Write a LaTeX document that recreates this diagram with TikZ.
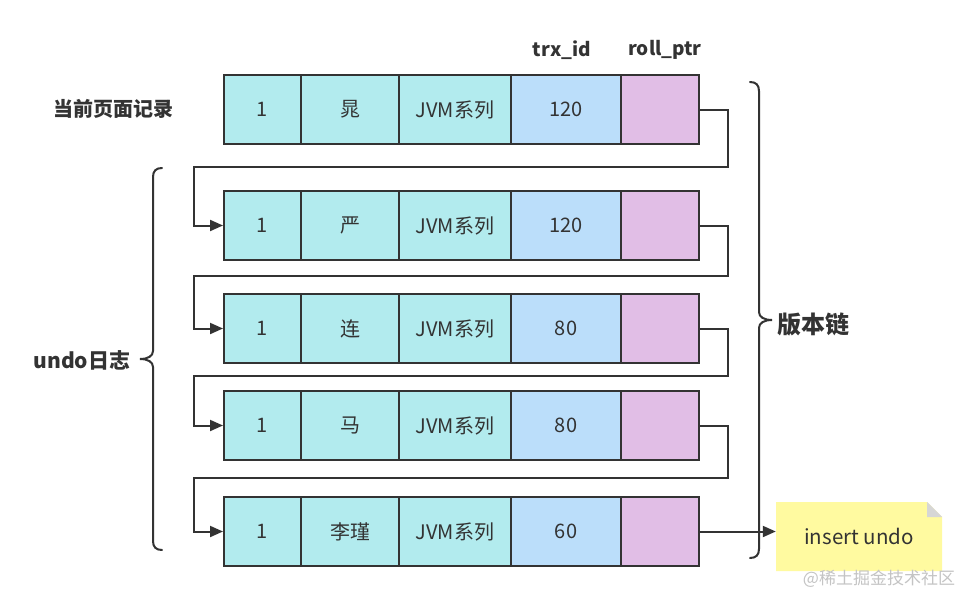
\documentclass[tikz,border=0pt]{standalone}
\usepackage{fontspec}
\setmainfont{Noto Sans CJK SC}
\usetikzlibrary{arrows.meta,calc}
\definecolor{cyanf}{HTML}{B2EBEE}
\definecolor{bluef}{HTML}{BBDEFA}
\definecolor{pinkf}{HTML}{E1BEE6}
\definecolor{ink}{HTML}{333333}
\definecolor{notef}{HTML}{FFFAA0}
\definecolor{foldc}{HTML}{D6D6D6}
\definecolor{wm}{HTML}{C4C4C4}
\begin{document}
\begin{tikzpicture}[x=1pt,y=-1pt,
  cell/.style={draw=ink,line width=2pt,minimum height=69pt,inner sep=0pt,anchor=north west,
    font=\fontsize{20}{22}\selectfont,text=ink},
  conn/.style={draw=ink,line width=2pt},
  tip/.style={-{Triangle[length=13pt,width=11pt]}},
  lab/.style={font=\bfseries,text=ink,inner sep=0pt},
  brace/.style={draw=ink,line width=2pt,line cap=round}]
\fill[white] (0,0) rectangle (967,597);
\useasboundingbox (0,0) rectangle (967,597);
\foreach \r/\y/\nm/\trx in {1/74/晁/120, 2/190/严/120, 3/293/连/80, 4/390/马/80, 5/496/李瑾/60}{
  \node[cell,fill=cyanf,minimum width=77pt] (c1-\r) at (223,\y) {1};
  \node[cell,fill=cyanf,minimum width=98pt] (c2-\r) at (300,\y) {\nm};
  \node[cell,fill=cyanf,minimum width=112pt] (c3-\r) at (398,\y) {JVM系列};
  \node[cell,fill=bluef,minimum width=110pt] (c4-\r) at (510,\y) {\trx};
  \node[cell,fill=pinkf,minimum width=78pt] (c5-\r) at (620,\y) {};
}
\foreach \a/\b/\g in {1/2/167, 2/3/276, 3/4/376, 4/5/478}{
  \draw[conn,tip] (c5-\a.east) -| (728,\g) -- (194,\g) |- (c1-\b.west);
}
% note
\node[inner sep=0pt,minimum width=166pt,minimum height=69pt,text=ink,
  font=\fontsize{20.5}{22}\selectfont,
  path picture={
    \fill[notef] (path picture bounding box.south west) -- (path picture bounding box.north west)
      -- ([xshift=-15pt]path picture bounding box.north east)
      -- ([yshift=-15pt]path picture bounding box.north east)
      -- (path picture bounding box.south east) -- cycle;
    \fill[foldc] ([xshift=-15pt]path picture bounding box.north east)
      -- ([yshift=-15pt]path picture bounding box.north east)
      -- ([xshift=-15pt,yshift=-15pt]path picture bounding box.north east) -- cycle;
  }] (note) at (859,536.5) {insert undo};
\draw[conn,tip] (c5-5.east) -- (c5-5.east -| note.west);
% braces
\draw[brace] (162,168) .. controls (156,168) and (153,171) .. (153,177) -- (153,351)
  .. controls (153,356) and (148,359) .. (140,359)
  .. controls (148,359) and (153,362) .. (153,367) -- (153,541)
  .. controls (153,547) and (156,550) .. (162,550);
\draw[brace] (750,82) .. controls (756,82) and (759,85) .. (759,91) -- (759,312)
  .. controls (759,317) and (764,320) .. (772,320)
  .. controls (764,320) and (759,323) .. (759,328) -- (759,549)
  .. controls (759,555) and (756,558) .. (750,558);
% labels
\node[lab,font=\fontsize{20}{22}\bfseries\selectfont] (cur) at (113,109) {当前页面记录};
\node[lab,font=\fontsize{19}{21}\bfseries\selectfont] (trx) at (562,50) {trx\_id};
\node[lab,font=\fontsize{19}{21}\bfseries\selectfont] (roll) at (665,50) {roll\_ptr};
\node[lab,font=\fontsize{21}{23}\bfseries\selectfont] (undo) at (82,360) {undo日志};
\node[lab,font=\fontsize{24}{26}\bfseries\selectfont] (ver) at (813,324) {版本链};
\node[inner sep=0pt,text=wm,font=\fontsize{17}{19}\selectfont] (wmk) at (879,579) {@稀土掘金技术社区};
\end{tikzpicture}
\end{document}
